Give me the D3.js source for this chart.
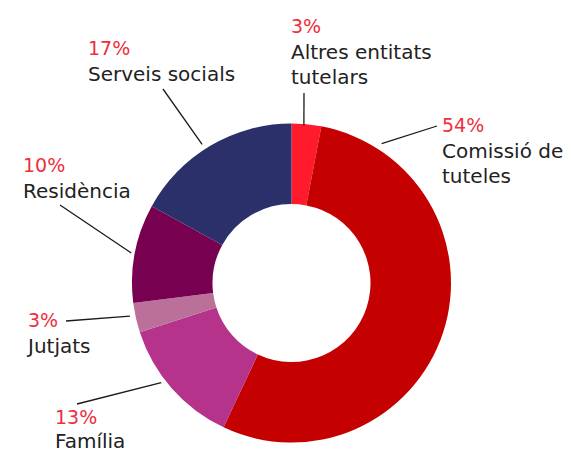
<!DOCTYPE html>
<html>
<head>
<meta charset="utf-8">
<script src="https://cdn.jsdelivr.net/npm/d3@7"></script>
<style>
  html, body { margin: 0; padding: 0; background: #fff; }
  svg { display: block; }
</style>
</head>
<body>
<div id="chart"></div>
<script>
  'use strict';

  // Data (percent of total).
  var categories = ["Altres entitats tutelars", "Comissió de tuteles", "Família", "Jutjats", "Residència", "Serveis socials"];
  var values = [3, 54, 13, 3, 10, 17];
  var labelLines = [["Altres entitats", "tutelars"], ["Comissió de", "tuteles"], ["Família"], ["Jutjats"], ["Residència"], ["Serveis socials"]];
  var colors = ["#ff1b2b", "#c40000", "#b5338a", "#bb7099", "#780050", "#2b306b"];

  // Label layout: text anchor (x, baseline of %), leader line outer end, angle + radius of inner end.
  var labelLayout = [
    { x: 291, y: 33,  ox: 304, oy: 93,  ang: 4.5,   r: 158 },
    { x: 442, y: 132, ox: 437, oy: 126, ang: 32.9,  r: 166 },
    { x: 55,  y: 424, ox: 77,  oy: 404, ang: 232.6, r: 164 },
    { x: 28,  y: 327, ox: 66,  oy: 321, ang: 258.4, r: 165 },
    { x: 23,  y: 172, ox: 60,  oy: 205, ang: 280.6, r: 163 },
    { x: 88,  y: 55,  ox: 163, oy: 89,  ang: 327.2, r: 165 }
  ];

  var W = 573, H = 454;
  var cx = 291.5, cy = 283;
  var outerR = 159.5, innerR = 79;

  var svg = d3.select("#chart").append("svg")
    .attr("width", W)
    .attr("height", H);

  var data = categories.map(function(c, i) {
    return { name: c, value: values[i], lines: labelLines[i], color: colors[i], lay: labelLayout[i] };
  });

  var pie = d3.pie().sort(null).value(function(d) { return d.value; });
  var arc = d3.arc().innerRadius(innerR).outerRadius(outerR);

  var g = svg.append("g").attr("transform", "translate(" + cx + "," + cy + ")");

  g.selectAll("path.slice")
    .data(pie(data))
    .enter().append("path")
    .attr("class", "slice")
    .attr("d", arc)
    .attr("fill", function(d) { return d.data.color; });

  // Leader lines
  svg.selectAll("line.leader")
    .data(data)
    .enter().append("line")
    .attr("class", "leader")
    .attr("x1", function(d) { return cx + d.lay.r * Math.sin(d.lay.ang * Math.PI / 180); })
    .attr("y1", function(d) { return cy - d.lay.r * Math.cos(d.lay.ang * Math.PI / 180); })
    .attr("x2", function(d) { return d.lay.ox; })
    .attr("y2", function(d) { return d.lay.oy; })
    .attr("stroke", "#1a1a1a")
    .attr("stroke-width", 1.3);

  // Labels: red percentage, dark category name below.
  var lab = svg.selectAll("g.label")
    .data(data)
    .enter().append("g")
    .attr("class", "label")
    .attr("font-family", "'DejaVu Sans', sans-serif");

  lab.append("text")
    .attr("x", function(d) { return d.lay.x; })
    .attr("y", function(d) { return d.lay.y; })
    .attr("font-size", 19)
    .attr("fill", "#ee2f3c")
    .text(function(d) { return d.value + "%"; });

  lab.each(function(d) {
    var sel = d3.select(this);
    d.lines.forEach(function(line, i) {
      sel.append("text")
        .attr("x", d.lay.x)
        .attr("y", d.lay.y + (i === 0 && d.lines.length === 1 && d.lay.y > 400 ? 24 : 25.5 * (i + 1)))
        .attr("font-size", 20)
        .attr("fill", "#222")
        .text(line);
    });
  });
</script>
</body>
</html>
